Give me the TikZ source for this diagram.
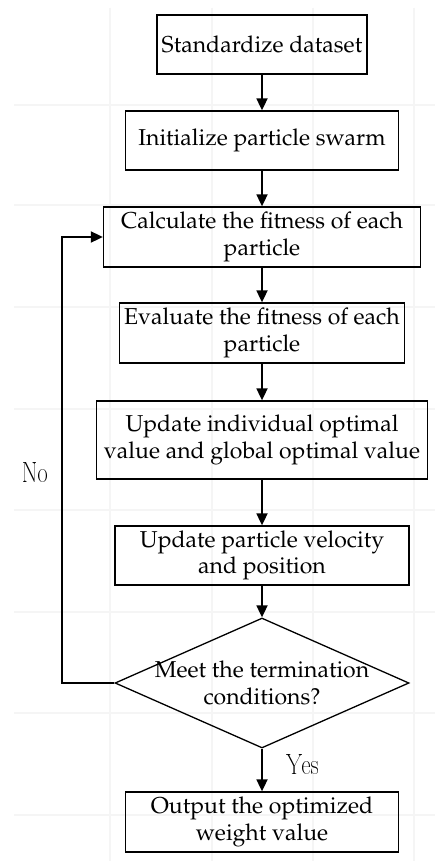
\documentclass[tikz,border=0pt]{standalone}
\usepackage{fontspec}
\usepackage[T1]{fontenc}
\newcommand\palf{\fontencoding{T1}\fontfamily{ppl}\fontseries{m}\fontshape{n}\selectfont}
\newcommand\monolbl[1]{\scalebox{0.82}[1]{\ttfamily\fontsize{28}{30}\selectfont #1}}
\usetikzlibrary{shapes.geometric,arrows.meta}
\begin{document}
\begin{tikzpicture}[x=1pt,y=-1pt,
  box/.style={draw,line width=1.3pt,rectangle,inner sep=0pt,align=center,font=\palf\fontsize{23}{26.5}\selectfont},
  arr/.style={line width=1.8pt,-{Triangle[length=12pt,width=11pt]}},
  gridl/.style={line width=2.5pt,color=black!4},
  lbl/.style={inner sep=0pt}]
\useasboundingbox (0,0) rectangle (435,861);
\fill[white] (0,0) rectangle (435,861);
% faint background grid
\foreach \gx in {110,212,313,414} \draw[gridl] (\gx,8) -- (\gx,861);
\foreach \gy in {105,205,307,409,510,612,713,815} \draw[gridl] (14,\gy) -- (435,\gy);
% nodes
\node[box,minimum width=210pt,minimum height=59pt] (b1) at (262,44.5) {Standardize dataset};
\node[box,minimum width=273pt,minimum height=59pt] (b2) at (262,140.5) {Initialize particle swarm};
\node[box,minimum width=317pt,minimum height=60pt] (b3) at (262,237) {Calculate the fitness of each\\particle};
\node[box,minimum width=285pt,minimum height=60pt] (b4) at (262,333) {Evaluate the fitness of each\\particle};
\node[box,minimum width=331pt,minimum height=78pt] (b5) at (262,440) {Update individual optimal\\value and global optimal value};
\node[box,minimum width=294pt,minimum height=59pt] (b6) at (262,555.5) {Update particle velocity\\and position};
\node[diamond,draw,line width=1.3pt,inner sep=0pt,minimum width=294pt,minimum height=130pt] (dec) at (262,683) {};
\node[align=center,font=\palf\fontsize{23}{26.5}\selectfont] (dect) at (dec.center) {Meet the termination\\conditions?};
\node[box,minimum width=273pt,minimum height=60pt] (b8) at (262,822) {Output the optimized\\weight value};
% connectors
\draw[arr] (b1) -- (b2);
\draw[arr] (b2) -- (b3);
\draw[arr] (b3) -- (b4);
\draw[arr] (b4) -- (b5);
\draw[arr] (b5) -- (b6);
\draw[arr] (b6) -- (dec);
\draw[arr] (dec) -- (b8);
\coordinate (lp) at (62,683);
\draw[arr] (dec.west) -- (lp) |- (b3.west);
% labels
\node[lbl] (no) at (35,472) {\monolbl{No}};
\node[lbl] (yes) at (303,764) {\monolbl{Yes}};
\end{tikzpicture}
\end{document}
